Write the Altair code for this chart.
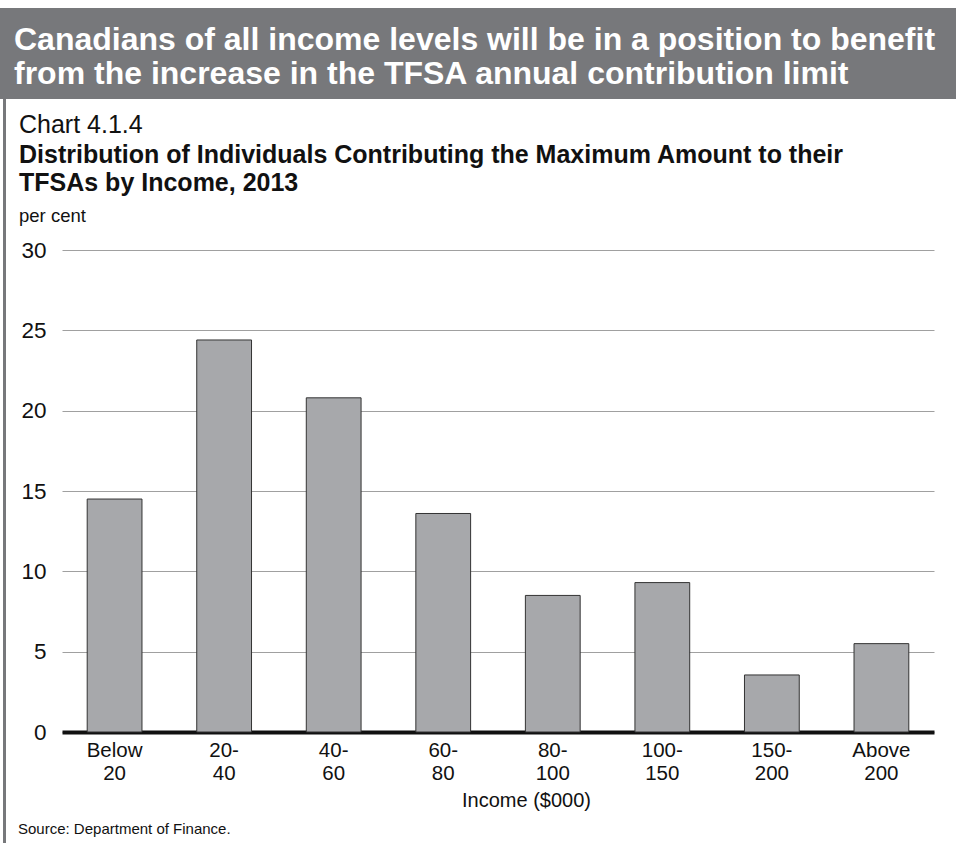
import altair as alt
import pandas as pd

categories = ["Below|20", "20-|40", "40-|60", "60-|80", "80-|100", "100-|150", "150-|200", "Above|200"]
values = [14.5, 24.4, 20.8, 13.6, 8.5, 9.3, 3.55, 5.5]

header_lines = [
    "Canadians of all income levels will be in a position to benefit",
    "from the increase in the TFSA annual contribution limit",
]
chart_number = "Chart 4.1.4"
subtitle_lines = [
    "Distribution of Individuals Contributing the Maximum Amount to their",
    "TFSAs by Income, 2013",
]
unit_label = "per cent"
x_title = "Income ($000)"
source = "Source: Department of Finance."

FONT = "Liberation Sans"
PAD_L, PAD_T = 62, 250
W, H = 872, 482

df = pd.DataFrame({"cat": categories, "val": values})
one = pd.DataFrame({"a": [0]})

bars = alt.Chart(df).mark_bar(color="#a7a8ab", stroke="#333333", strokeWidth=1).encode(
    x=alt.X("cat:N", sort=categories, title=x_title,
            scale=alt.Scale(paddingInner=0.5, paddingOuter=0.23),
            axis=alt.Axis(labelExpr="split(datum.label, '|')", labelAngle=0,
                          labelFontSize=20.5, labelLineHeight=23.5, labelColor="#111",
                          labelFont=FONT, labelPadding=8, ticks=False,
                          domainColor="#111", domainWidth=4,
                          titleFont=FONT, titleFontSize=20, titleFontWeight="normal",
                          titleColor="#111", titlePadding=6,
                          titleX=464, titleAlign="center")),
    y=alt.Y("val:Q", title=None,
            scale=alt.Scale(domain=[0, 30], nice=False),
            axis=alt.Axis(values=[0, 5, 10, 15, 20, 25, 30], domain=False, ticks=False,
                          gridColor="#a0a0a0", gridWidth=1, labelFontSize=22.5,
                          labelFont=FONT, labelColor="#111", labelPadding=16)),
)

header_bg = alt.Chart(one).mark_rect(color="#77787b").encode(
    x=alt.value(-PAD_L), x2=alt.value(956 - PAD_L),
    y=alt.value(8 - PAD_T), y2=alt.value(99 - PAD_T),
)
left_border = alt.Chart(one).mark_rect(color="#77787b").encode(
    x=alt.value(3 - PAD_L), x2=alt.value(6 - PAD_L),
    y=alt.value(99 - PAD_T), y2=alt.value(843 - PAD_T),
)


def txt(s, x, y, size, weight="normal", color="#111"):
    return alt.Chart(one).mark_text(
        text=s, align="left", baseline="alphabetic", font=FONT,
        fontSize=size, fontWeight=weight, color=color,
    ).encode(x=alt.value(x - PAD_L), y=alt.value(y - PAD_T))


texts = [
    txt(header_lines[0], 14, 50, 32, "bold", "white"),
    txt(header_lines[1], 14, 84, 32, "bold", "white"),
    txt(chart_number, 19, 133, 25),
    txt(subtitle_lines[0], 19, 162.5, 25, "bold"),
    txt(subtitle_lines[1], 19, 190.5, 25, "bold"),
    txt(unit_label, 19, 222, 18.5),
    txt(source, 18, 834, 15),
]

chart = alt.layer(header_bg, left_border, bars, *texts).properties(
    width=W, height=H,
    padding={"left": PAD_L, "top": PAD_T, "right": 956 - PAD_L - W, "bottom": 843 - PAD_T - H},
    autosize=alt.AutoSizeParams(type="none"),
    background="white",
).configure_view(stroke=None)

chart.save("out.html", embed_options={"renderer": "svg", "actions": False})
